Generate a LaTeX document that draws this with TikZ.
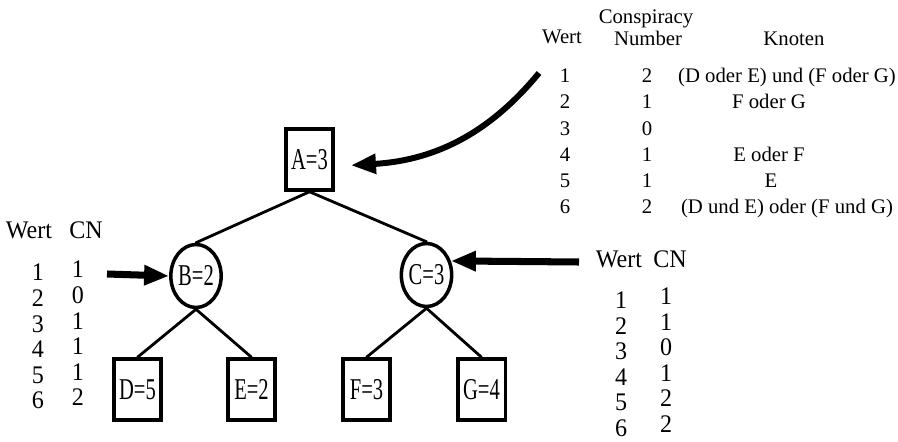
\documentclass[tikz,border=0pt]{standalone}
\usepackage{fontspec}
\setmainfont{Liberation Serif}
\newfontfamily\narrowfont{Liberation Serif}[FakeStretch=0.68]
\newfontfamily\tabfontfam{Liberation Serif}[FakeStretch=0.95]
\usepackage{tikz}
\usetikzlibrary{arrows.meta,shapes.geometric}
\definecolor{ink}{HTML}{000000}
\newcommand{\wfont}{\fontsize{11.8}{12}\selectfont}
\newcommand{\cfont}{\tabfontfam\fontsize{14.4}{15}\selectfont}
\newcommand{\kfont}{\narrowfont\fontsize{17.2}{18}\selectfont}
\tikzset{
  base/.style={draw=ink, line width=1.6pt, line cap=round},
  knot/.style={draw=ink, line width=2pt, rectangle, inner sep=0pt,
    minimum width=0.95cm, minimum height=1.22cm, font=\kfont},
  cnode/.style={draw=ink, line width=2pt, ellipse, inner sep=0pt,
    minimum width=0.96cm, minimum height=1.26cm, font=\kfont},
  pfeil/.style={draw=ink, line width=4pt, -{Triangle[length=0.5cm,width=0.38cm]}},
  tab/.style={text=ink, inner sep=0pt, text height=0.66em, text depth=0pt, font=\wfont},
  tabc/.style={tab, font=\cfont},
}

\begin{document}
\begin{tikzpicture}
  \useasboundingbox (0,0) rectangle (17.96,-8.84);
  \node[knot] (A) at (6.19,-3.19) {A=3};
  \node[cnode] (B) at (3.92,-5.52) {B=2};
  \node[cnode] (C) at (8.53,-5.50) {C=3};
  \node[knot] (D) at (2.75,-7.79) {D=5};
  \node[knot] (E) at (5.03,-7.79) {E=2};
  \node[knot] (F) at (7.33,-7.79) {F=3};
  \node[knot] (G) at (9.63,-7.79) {G=4};
  \draw[base] (A.south) -- (B.north);
  \draw[base] (A.south) -- (C.north);
  \draw[base] (B.south) -- (D.north);
  \draw[base] (B.south) -- (E.north);
  \draw[base] (C.south) -- (F.north);
  \draw[base] (C.south) -- (G.north);

  \coordinate (lstart) at (2.14,-5.48);
  \coordinate (rstart) at (11.58,-5.24);
  \coordinate (cstart) at (10.78,-1.46);
  \draw[pfeil] (lstart) -- (B.west);
  \draw[pfeil] (rstart) -- (C.30);
  \draw[pfeil, line width=3.4pt, shorten >=0.32cm] (cstart) .. controls (9.84,-2.6) and (8.78,-3.2) .. (A.-15);

  \node[tab] (kwert) at (11.24,-0.76) {Wert};
  \node[tab] (kcon) at (12.92,-0.36) {Conspiracy};
  \node[tab] (knum) at (12.96,-0.80) {Number};
  \node[tab] (kkno) at (15.88,-0.80) {Knoten};
  \foreach \w/\c/\k/\x [count=\i] in {1/2/{(D oder E) und (F oder G)}/15.74, 2/1/{F oder G}/15.38,
      3/0/{}/15.38, 4/1/{E oder F}/15.38, 5/1/{E}/15.42, 6/2/{(D und E) oder (F und G)}/15.74} {
    \node[tab] (tw\i) at (11.30,{-1.54-0.524*(\i-1)}) {\w};
    \node[tab] (tc\i) at (12.94,{-1.54-0.524*(\i-1)}) {\c};
    \node[tab] (tk\i) at (\x,{-1.54-0.524*(\i-1)}) {\k};
  }

  \node[tabc] (lwert) at (0.58,-4.66) {Wert};
  \node[tabc] (lcn) at (1.72,-4.66) {CN};
  \foreach \c [count=\i] in {1,0,1,1,1,2} {
    \node[tabc] (lw\i) at (0.76,{-5.50-0.512*(\i-1)}) {\i};
    \node[tabc] (lc\i) at (1.56,{-5.44-0.512*(\i-1)}) {\c};
  }

  \node[tabc] (rwert) at (12.38,-5.24) {Wert};
  \node[tabc] (rcn) at (13.40,-5.24) {CN};
  \foreach \c [count=\i] in {1,1,0,1,2,2} {
    \node[tabc] (rw\i) at (12.42,{-6.06-0.51*(\i-1)}) {\i};
    \node[tabc] (rc\i) at (13.32,{-5.98-0.51*(\i-1)}) {\c};
  }
\end{tikzpicture}
\end{document}
